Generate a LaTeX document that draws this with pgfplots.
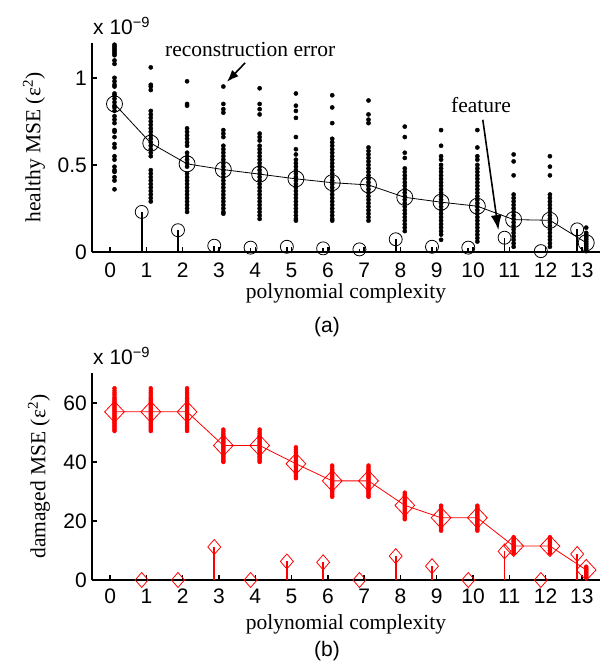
\documentclass[border=0pt]{standalone}
\usepackage{fontspec}
\setmainfont{Liberation Serif}
\setsansfont{Liberation Sans}
\usepackage{pgfplots}
\pgfplotsset{compat=1.18}
\usetikzlibrary{arrows.meta}

\newcommand{\col}[3]{\addplot[#1] table[x expr=#2, y index=0, header=false, row sep=\\]{#3};}

\pgfplotsset{
 mystyle/.style={
  scale only axis, width=508pt,
  xmin=-0.5, xmax=13.5,
  axis x line*=bottom, axis y line*=left,
  axis line style={line width=1.5pt, -},
  tick style={line width=1.5pt, black},
  major tick length=5pt,
  tick align=inside,
  xtick={0,...,13},
  ticklabel style={font=\fontsize{21}{25}\sffamily},
  /pgf/number format/assume math mode=true,
  yticklabel style={anchor=east, inner sep=0pt, xshift=-5pt},
  xticklabel style={anchor=center, inner sep=0pt},
  label style={font=\fontsize{21.5}{26}\selectfont},
  xlabel={polynomial complexity},
  clip=false,
 },
 bdot/.style={only marks, mark=*, mark size=2.1pt, black},
 rdot/.style={only marks, mark=*, mark size=2pt, red},
}

\begin{document}
\begin{tikzpicture}
% ---------------- (a) healthy ----------------
\begin{axis}[mystyle, at={(92pt,410pt)}, anchor=south west, height=209pt,
  ymin=0, ymax=1.2, ytick={0,0.5,1}, yticklabels={0,0.5,1},
  xticklabel style={yshift=-18pt},
  xlabel style={at={(axis description cs:0.5,-0.1986)}, anchor=center},
  ylabel={healthy MSE (ε\textsuperscript{2})},
  ylabel style={at={(axis description cs:-0.1142,0.5)}, anchor=center}]
\col{bdot}{0.12}{1.19\\1.18\\1.17\\1.16\\1.15\\1.14\\1.13\\1.10\\1.08\\1.00\\0.98\\0.96\\0.95\\0.91\\0.90\\0.88\\0.86\\0.84\\0.83\\0.81\\0.78\\0.76\\0.74\\0.70\\0.69\\0.66\\0.62\\0.60\\0.55\\0.53\\0.49\\0.47\\0.46\\0.43\\0.41\\0.36\\}
\col{bdot}{1.12}{1.06\\0.96\\0.95\\0.93\\0.81\\0.79\\0.77\\0.75\\0.73\\0.71\\0.69\\0.67\\0.65\\0.63\\0.61\\0.59\\0.57\\0.55\\0.47\\0.45\\0.43\\0.41\\0.39\\0.37\\0.35\\0.33\\0.31\\0.29\\}
\col{bdot}{2.12}{0.98\\0.85\\0.84\\0.71\\0.69\\0.67\\0.65\\0.63\\0.61\\0.57\\0.55\\0.53\\0.51\\0.49\\0.45\\0.43\\0.41\\0.39\\0.37\\0.35\\0.33\\0.31\\0.29\\0.27\\0.25\\0.23\\}
\col{bdot}{3.12}{0.95\\0.85\\0.82\\0.80\\0.70\\0.68\\0.66\\0.61\\0.59\\0.57\\0.55\\0.53\\0.51\\0.49\\0.47\\0.45\\0.43\\0.41\\0.39\\0.37\\0.35\\0.33\\0.31\\0.29\\0.27\\0.25\\0.23\\0.22\\}
\col{bdot}{4.12}{0.94\\0.85\\0.82\\0.79\\0.68\\0.66\\0.64\\0.61\\0.59\\0.57\\0.55\\0.53\\0.51\\0.49\\0.47\\0.45\\0.43\\0.41\\0.39\\0.37\\0.35\\0.33\\0.31\\0.29\\0.27\\0.25\\0.23\\0.21\\0.19\\}
\col{bdot}{5.12}{0.91\\0.84\\0.81\\0.77\\0.66\\0.59\\0.56\\0.53\\0.51\\0.49\\0.47\\0.45\\0.43\\0.41\\0.39\\0.37\\0.35\\0.33\\0.31\\0.29\\0.27\\0.25\\0.23\\0.21\\0.19\\0.18\\}
\col{bdot}{6.12}{0.90\\0.83\\0.74\\0.65\\0.63\\0.61\\0.59\\0.57\\0.55\\0.53\\0.51\\0.49\\0.47\\0.45\\0.43\\0.41\\0.39\\0.37\\0.35\\0.33\\0.31\\0.29\\0.27\\0.25\\0.23\\0.21\\0.19\\0.18\\}
\col{bdot}{7.12}{0.87\\0.79\\0.76\\0.74\\0.60\\0.58\\0.56\\0.54\\0.52\\0.50\\0.48\\0.46\\0.44\\0.42\\0.40\\0.38\\0.36\\0.34\\0.32\\0.30\\0.28\\0.26\\0.24\\0.22\\0.20\\0.18\\}
\col{bdot}{8.12}{0.72\\0.66\\0.57\\0.54\\0.48\\0.46\\0.44\\0.42\\0.40\\0.38\\0.36\\0.34\\0.32\\0.30\\0.28\\0.26\\0.24\\0.22\\0.20\\0.18\\0.16\\0.14\\0.12\\}
\col{bdot}{9.12}{0.70\\0.61\\0.55\\0.53\\0.50\\0.48\\0.46\\0.44\\0.42\\0.40\\0.38\\0.36\\0.34\\0.32\\0.30\\0.28\\0.26\\0.24\\0.22\\0.20\\0.18\\0.16\\0.14\\0.12\\0.10\\0.07\\}
\col{bdot}{10.12}{0.70\\0.60\\0.55\\0.53\\0.50\\0.48\\0.46\\0.44\\0.42\\0.40\\0.38\\0.36\\0.34\\0.32\\0.30\\0.28\\0.26\\0.24\\0.22\\0.20\\0.18\\0.16\\0.14\\0.12\\0.10\\0.08\\0.06\\}
\col{bdot}{11.12}{0.56\\0.52\\0.44\\0.33\\0.31\\0.29\\0.27\\0.25\\0.23\\0.21\\0.19\\0.17\\0.15\\0.13\\0.11\\0.09\\0.07\\0.05\\0.03\\}
\col{bdot}{12.12}{0.55\\0.49\\0.44\\0.33\\0.31\\0.29\\0.27\\0.25\\0.23\\0.21\\0.19\\0.17\\0.15\\0.13\\0.11\\0.09\\0.07\\0.05\\0.03\\}
\col{bdot}{13.12}{0.14\\0.11\\0.10\\0.09\\0.08\\0.07\\0.06\\0.05\\0.04\\0.03\\0.02\\0.01\\0.005\\}
% mean line
\addplot[black, line width=0.8pt, mark=o, mark size=8pt, mark options={line width=0.8pt}] coordinates {
 (0.12,0.85)(1.12,0.625)(2.12,0.506)(3.12,0.473)(4.12,0.447)(5.12,0.42)(6.12,0.398)
 (7.12,0.385)(8.12,0.314)(9.12,0.286)(10.12,0.263)(11.12,0.186)(12.12,0.182)(13.12,0.053)};
% feature stems
\addplot[ycomb, black, line width=1.8pt, mark=o, mark size=6.5pt, mark options={line width=0.8pt}] coordinates {
 (0.87,0.23)(1.87,0.125)(2.87,0.036)(3.87,0.025)(4.87,0.03)(5.87,0.021)(6.87,0.015)
 (7.87,0.073)(8.87,0.03)(9.87,0.025)(10.87,0.082)(11.87,0.005)(12.87,0.13)};
\node[font=\fontsize{21.5}{26}\selectfont, inner sep=0pt] at (axis cs:3.86,1.16) {reconstruction error};
\draw[-{Latex[length=12pt,width=9pt]}, line width=1.6pt] (axis cs:3.72,1.086) -- (axis cs:3.22,0.977);
\node[font=\fontsize{21.5}{26}\selectfont, inner sep=0pt] at (axis cs:10.22,0.845) {feature};
\draw[-{Latex[length=15pt,width=11pt]}, line width=1.6pt] (axis cs:10.27,0.759) -- (axis cs:10.70,0.126);
\end{axis}
% ---------------- (b) damaged ----------------
\begin{axis}[mystyle, at={(92pt,82pt)}, anchor=south west, height=206.5pt,
  ymin=0, ymax=70, ytick={0,20,40,60},
  xticklabel style={yshift=-16pt},
  xlabel style={at={(axis description cs:0.5,-0.2131)}, anchor=center},
  ylabel={damaged MSE (ε\textsuperscript{2})},
  ylabel style={at={(axis description cs:-0.1043,0.5)}, anchor=center}]
\col{rdot}{0.12}{65\\64.2\\63.5\\62.8\\62\\61.5\\61\\60.5\\60\\59.5\\59\\58.5\\58\\57.5\\57\\56.5\\56\\55.5\\55\\54.5\\54\\53.5\\53\\52.5\\52\\51.5\\51\\50.5\\}
\col{rdot}{1.12}{65\\64.2\\63.5\\62.8\\62\\61.5\\61\\60.5\\60\\59.5\\59\\58.5\\58\\57.5\\57\\56.5\\56\\55.5\\55\\54.5\\54\\53.5\\53\\52.5\\52\\51.5\\51\\50.5\\}
\col{rdot}{2.12}{65\\64.2\\63.5\\62.8\\62\\61.5\\61\\60.5\\60\\59.5\\59\\58.5\\58\\57.5\\57\\56.5\\56\\55.5\\55\\54.5\\54\\53.5\\53\\52.5\\52\\51.5\\51\\50.5\\}
\col{rdot}{3.12}{51\\50.3\\49.6\\49\\48.5\\48\\47.5\\47\\46.5\\46\\45.5\\45\\44.5\\44\\43.5\\43\\42.5\\42\\41.5\\41\\40.5\\40\\}
\col{rdot}{4.12}{51\\50.3\\49.6\\49\\48.5\\48\\47.5\\47\\46.5\\46\\45.5\\45\\44.5\\44\\43.5\\43\\42.5\\42\\41.5\\41\\40.5\\40\\}
\col{rdot}{5.12}{45\\44.3\\43.5\\42.8\\42\\41.5\\41\\40.5\\40\\39.5\\39\\38.5\\38\\37.5\\37\\36.5\\36\\35.5\\35\\34.5\\}
\col{rdot}{6.12}{38.8\\38.2\\37.5\\37\\36.5\\36\\35.5\\35\\34.5\\34\\33.5\\33\\32.5\\32\\31.5\\31\\30.5\\30\\29.5\\29\\28.5\\28.2\\}
\col{rdot}{7.12}{38.8\\38.2\\37.5\\37\\36.5\\36\\35.5\\35\\34.5\\34\\33.5\\33\\32.5\\32\\31.5\\31\\30.5\\30\\29.5\\29\\28.5\\28.2\\}
\col{rdot}{8.12}{29.6\\29\\28.5\\28\\27.5\\27\\26.5\\26\\25.5\\25\\24.5\\24\\23.5\\23\\22.5\\22\\21.5\\21\\20.6\\}
\col{rdot}{9.12}{25.2\\24.7\\24.2\\23.7\\23.2\\22.7\\22.2\\21.7\\21.2\\20.7\\20.2\\19.7\\19.2\\18.7\\18.2\\17.7\\17.2\\16.7\\}
\col{rdot}{10.12}{25.2\\24.7\\24.2\\23.7\\23.2\\22.7\\22.2\\21.7\\21.2\\20.7\\20.2\\19.7\\19.2\\18.7\\18.2\\17.7\\17.2\\16.7\\}
\col{rdot}{11.12}{14.5\\14\\13.5\\13\\12.5\\12\\11.5\\11\\10.5\\10\\9.5\\9\\}
\col{rdot}{12.12}{14.5\\14\\13.5\\13\\12.5\\12\\11.5\\11\\10.5\\10\\9.5\\9\\}
\col{rdot}{13.12}{4.5\\4.2\\3.9\\3.6\\3.3\\3\\2.7\\2.4\\2.1\\1.8\\1.5\\1.2\\1\\}
\addplot[red, line width=0.8pt, mark=diamond, mark size=10.5pt, mark options={line width=0.8pt, xscale=1.25}] coordinates {
 (0.12,57)(1.12,57)(2.12,57)(3.12,45.6)(4.12,45.6)(5.12,39.4)(6.12,33.6)(7.12,33.6)
 (8.12,25.3)(9.12,21.1)(10.12,21.1)(11.12,11.5)(12.12,11.5)(13.12,3.4)};
\addplot[ycomb, red, line width=1.8pt, mark=diamond, mark size=7.5pt, mark options={line width=0.8pt, xscale=1.15}] coordinates {
 (0.87,0)(1.87,0)(2.87,11.2)(3.87,0)(4.87,6.3)(5.87,6.0)(6.87,0)(7.87,8.1)(8.87,4.7)
 (9.87,0)(10.87,9.7)(11.87,0)(12.87,8.8)};
\end{axis}
% scale notes and panel letters
\node[anchor=base west, inner sep=0pt, font=\fontsize{21}{25}\sffamily] at (93pt,627pt) {x 10\textsuperscript{−9}};
\node[anchor=base west, inner sep=0pt, font=\fontsize{21}{25}\sffamily] at (93pt,297pt) {x 10\textsuperscript{−9}};
\node[inner sep=0pt, font=\fontsize{21}{25}\sffamily] at (327pt,335pt) {(a)};
\node[inner sep=0pt, font=\fontsize{21}{25}\sffamily] at (327pt,11pt) {(b)};
\pgfresetboundingbox
\path[use as bounding box] (0pt,0pt) rectangle (605pt,662pt);
\end{tikzpicture}
\end{document}
